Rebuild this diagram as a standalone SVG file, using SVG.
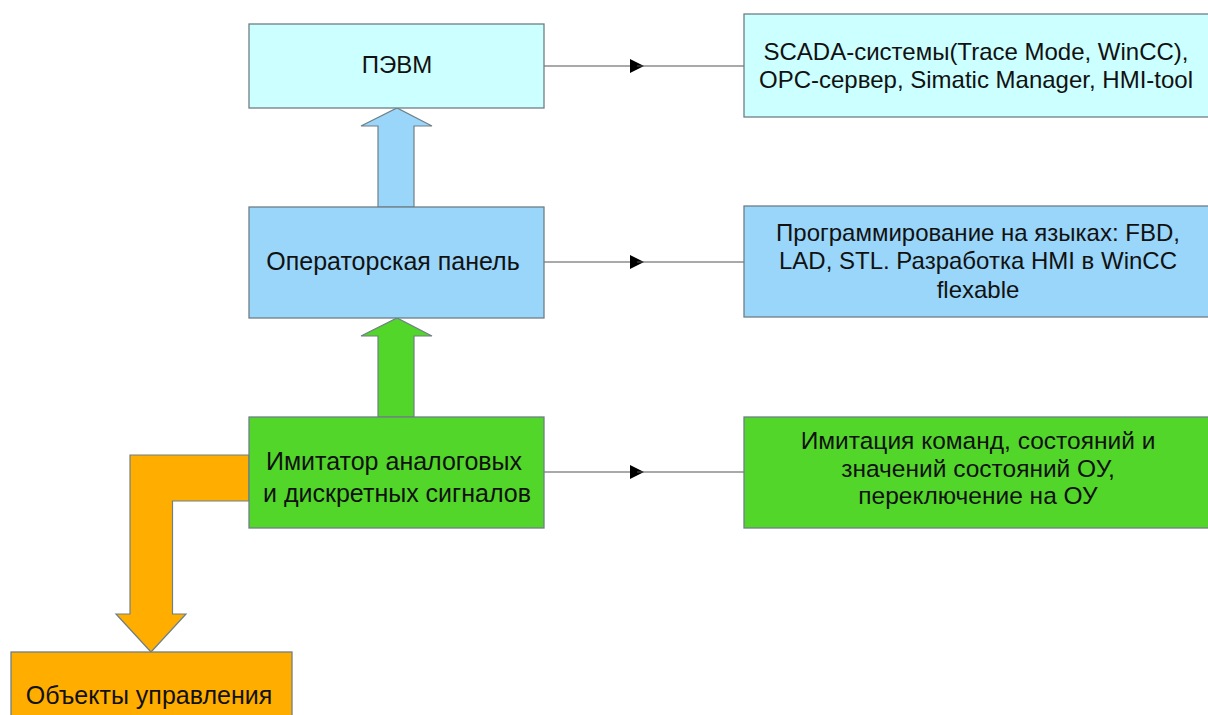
<svg xmlns="http://www.w3.org/2000/svg" width="1208" height="715" viewBox="0 0 1208 715">
<style>
text{font-family:"Liberation Sans",Arial,sans-serif;font-size:24px;fill:#111;text-anchor:middle}
.big{font-size:25px}
.mid{font-size:24.5px}
.box{stroke:#6f7f86;stroke-width:1.3}
.cyan{fill:#ccffff}
.blue{fill:#99d6fa}
.green{fill:#52d62a}
.orange{fill:#ffae00}
.conn{stroke:#555;stroke-width:1.2;fill:none}
.blk{stroke:#6f7f86;stroke-width:1.2}
</style>
<defs>
<marker id="tri" viewBox="0 0 14 14" refX="7" refY="7" markerWidth="14" markerHeight="14" markerUnits="userSpaceOnUse" orient="auto">
<path d="M0,0 L14,7 L0,14 Z" fill="#000"/>
</marker>
</defs>
<rect width="1208" height="715" fill="#fff"/>
<g id="connectors">
<path class="blk orange" d="M249,455 L130,455 L130,614 L116,614 L151,652 L186,614 L172.5,614 L172.5,501 L249,501 Z"/>
<path class="blk blue" d="M378,207 L378,126 L361,126 L397,108 L432,126 L414,126 L414,207 Z"/>
<path class="blk green" d="M378,417 L378,336 L361,336 L397,318 L432,336 L414,336 L414,417 Z"/>
<path class="conn" d="M544,66 L637,66" marker-end="url(#tri)"/>
<path class="conn" d="M637,66 L744,66"/>
<path class="conn" d="M544,262 L637,262" marker-end="url(#tri)"/>
<path class="conn" d="M637,262 L744,262"/>
<path class="conn" d="M544,472 L637,472" marker-end="url(#tri)"/>
<path class="conn" d="M637,472 L744,472"/>
</g>
<g id="pevm">
<rect class="box cyan" x="249" y="24" width="295" height="84"/>
<text x="397" y="73">ПЭВМ</text>
</g>
<g id="operator-panel">
<rect class="box blue" x="249" y="207" width="295" height="111"/>
<text class="big" x="393" y="270">Операторская панель</text>
</g>
<g id="imitator">
<rect class="box green" x="249" y="417" width="295" height="111"/>
<text class="big" x="394" y="470">Имитатор аналоговых</text>
<text class="big" x="397" y="502">и дискретных сигналов</text>
</g>
<g id="objects">
<rect class="box orange" x="11" y="652" width="281" height="70"/>
<text class="big" x="149" y="704">Объекты управления</text>
</g>
<g id="software">
<rect class="box cyan" x="744" y="14" width="470" height="103"/>
<text x="976" y="60">SCADA-системы(Trace Mode, WinCC),</text>
<text x="976" y="88">OPC-сервер, Simatic Manager, HMI-tool</text>
</g>
<g id="programming">
<rect class="box blue" x="744" y="206" width="470" height="111"/>
<text x="978" y="241">Программирование на языках: FBD,</text>
<text x="978" y="269">LAD, STL. Разработка HMI в WinCC</text>
<text x="978" y="298">flexable</text>
</g>
<g id="imitation">
<rect class="box green" x="744" y="417" width="470" height="111"/>
<text class="mid" x="978" y="449">Имитация команд, состояний и</text>
<text class="mid" x="978" y="477">значений состояний ОУ,</text>
<text class="mid" x="978" y="504">переключение на ОУ</text>
</g>
</svg>
